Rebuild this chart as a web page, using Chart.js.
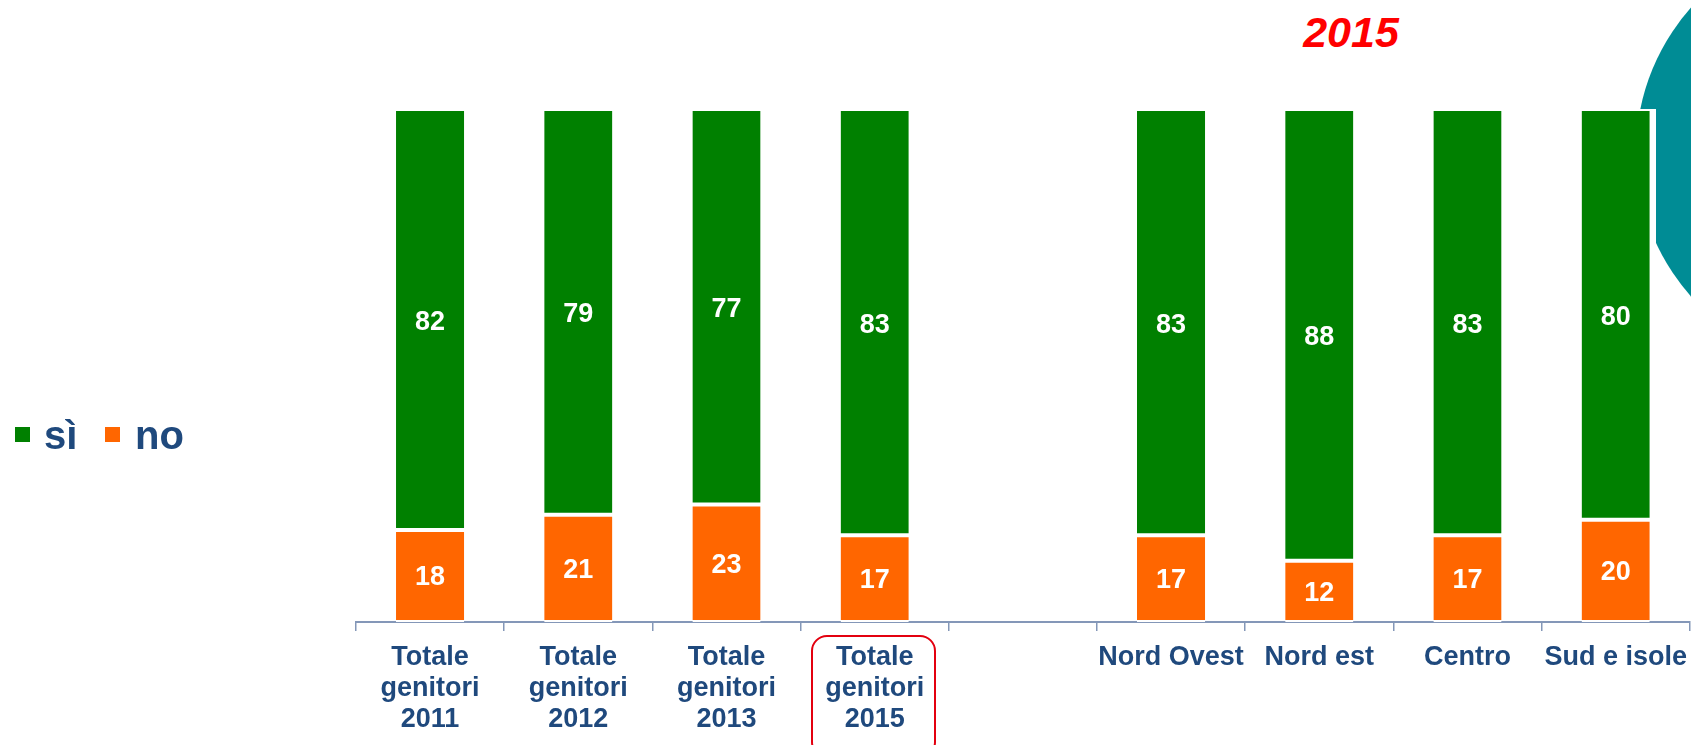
<!DOCTYPE html>
<html>
<head>
<meta charset="utf-8">
<script src="https://cdn.jsdelivr.net/npm/chart.js@4.4.1/dist/chart.umd.min.js"></script>
<style>
  html,body{margin:0;padding:0;background:#fff;overflow:hidden;}
  #wrap{position:relative;width:1691px;height:745px;overflow:hidden;font-family:"Liberation Sans",Arial,sans-serif;}
  #circle{position:absolute;left:1636px;top:-65px;width:434px;height:434px;border-radius:50%;background:#008c95;}
  #cover{position:absolute;left:1600px;top:109px;width:56px;height:636px;background:#fff;}
  #chart{position:absolute;left:0;top:0;}
  .sq{position:absolute;top:427px;width:15px;height:15px;}
  .lt{position:absolute;top:415px;font-size:40px;line-height:40px;font-weight:bold;color:#1f497d;}
  #year{position:absolute;left:1251px;top:11px;width:200px;text-align:center;font-size:43px;line-height:43px;font-weight:bold;font-style:italic;color:#ff0000;}
  #hl{position:absolute;left:811px;top:635px;width:125px;height:123px;border:2.5px solid #e3000f;border-radius:16px;box-sizing:border-box;}
</style>
</head>
<body>
<div id="wrap">
  <div id="circle"></div>
  <div id="cover"></div>
  <div id="year">2015</div>
  <div id="hl"></div>
  <canvas id="chart" width="1698" height="745"></canvas>
  <div class="sq" style="left:15px;background:#008000"></div>
  <div class="lt" style="left:44px">sì</div>
  <div class="sq" style="left:105px;background:#ff6600"></div>
  <div class="lt" style="left:135px">no</div>
</div>
<script>
(function(){
  // Data
  const CATEGORIES = [
    ['Totale','genitori','2011'],
    ['Totale','genitori','2012'],
    ['Totale','genitori','2013'],
    ['Totale','genitori','2015'],
    '',
    'Nord Ovest',
    'Nord est',
    'Centro',
    'Sud e isole'
  ];
  const SI = [82, 79, 77, 83, null, 83, 88, 83, 80];
  const NO = [18, 21, 23, 17, null, 17, 12, 17, 20];

  const FONT = '"Liberation Sans", Arial, sans-serif';
  const AXIS = '#8497b8';

  // value labels in the middle of each segment
  const valueLabels = {
    id:'valueLabels',
    afterDatasetsDraw(chart){
      const ctx = chart.ctx;
      ctx.save();
      ctx.fillStyle = '#fff';
      ctx.font = 'bold 27px ' + FONT;
      ctx.textAlign = 'center';
      ctx.textBaseline = 'middle';
      chart.data.datasets.forEach((ds, i)=>{
        chart.getDatasetMeta(i).data.forEach((bar, j)=>{
          const v = ds.data[j];
          if(v==null) return;
          ctx.fillText(String(v), bar.x, (bar.y + bar.base)/2 + 2);
        });
      });
      ctx.restore();
    }
  };

  new Chart(document.getElementById('chart'), {
    type:'bar',
    data:{
      labels:CATEGORIES,
      datasets:[
        {label:'no', data:NO, backgroundColor:'#ff6600', borderColor:'#fff',
         borderWidth:{top:2,bottom:2,left:0,right:0}, borderSkipped:false},
        {label:'sì', data:SI, backgroundColor:'#008000', borderColor:'#fff',
         borderWidth:{top:0,bottom:2,left:0,right:0}, borderSkipped:false}
      ]
    },
    options:{
      responsive:false,
      animation:false,
      layout:{padding:{left:356, right:1, top:111, bottom:0}},
      datasets:{bar:{categoryPercentage:1, barPercentage:0.46}},
      plugins:{legend:{display:false}, tooltip:{enabled:false}},
      scales:{
        x:{
          stacked:true,
          grid:{display:true, drawOnChartArea:false, drawTicks:true, tickLength:9, color:AXIS, lineWidth:1.5},
          border:{display:true, color:AXIS, width:2},
          ticks:{color:'#1f497d', font:{family:FONT, size:27, weight:'bold', lineHeight:1.15}, padding:11, maxRotation:0, autoSkip:false},
          afterFit(scale){ scale.height = 123; }
        },
        y:{stacked:true, display:false, min:0, max:100}
      }
    },
    plugins:[valueLabels]
  });
})();
</script>
</body>
</html>
